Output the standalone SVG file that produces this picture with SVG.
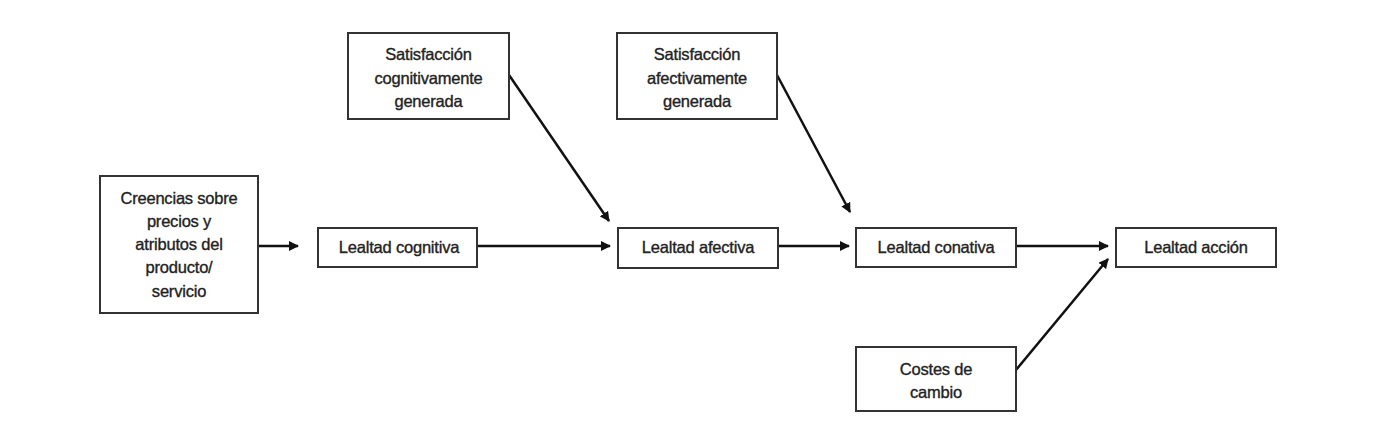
<svg xmlns="http://www.w3.org/2000/svg" width="1373" height="439" viewBox="0 0 1373 439">
<style>
.box{fill:#fff;stroke:#333;stroke-width:2}
.t{font-family:"Liberation Sans",Arial,sans-serif;font-size:16.5px;fill:#222;stroke:#222;stroke-width:0.35;text-anchor:middle;letter-spacing:-0.2px}
.c{stroke:#111;stroke-width:2.5;fill:none;marker-end:url(#ah)}
</style>
<defs>
<marker id="ah" markerWidth="10" markerHeight="10" refX="9" refY="5" orient="auto" markerUnits="userSpaceOnUse" viewBox="0 0 10 10">
<path d="M0,0 L10,5 L0,10 Z" fill="#111"/>
</marker>
</defs>
<rect width="1373" height="439" fill="#fff"/>
<g id="connectors">
<line class="c" x1="258" y1="246" x2="298" y2="246"/>
<line class="c" x1="477" y1="246" x2="610" y2="246"/>
<line class="c" x1="778" y1="246" x2="849" y2="246"/>
<line class="c" x1="1016" y1="246" x2="1108" y2="246"/>
<line class="c" x1="509" y1="75" x2="609" y2="221"/>
<line class="c" x1="777" y1="75" x2="850" y2="212"/>
<line class="c" x1="1016" y1="370" x2="1108" y2="259"/>
</g>
<g id="creencias">
<rect class="box" x="100" y="176" width="158" height="137"/>
<text class="t" x="179" y="204">Creencias sobre</text>
<text class="t" x="179" y="227">precios y</text>
<text class="t" x="179" y="250">atributos del</text>
<text class="t" x="179" y="273">producto/</text>
<text class="t" x="179" y="297">servicio</text>
</g>
<g id="lealtad-cognitiva">
<rect class="box" x="318" y="228" width="159" height="39"/>
<text class="t" x="399" y="253">Lealtad cognitiva</text>
</g>
<g id="sat-cognitiva">
<rect class="box" x="348" y="33" width="161" height="86"/>
<text class="t" x="428.5" y="60">Satisfacción</text>
<text class="t" x="428.5" y="84">cognitivamente</text>
<text class="t" x="428.5" y="107">generada</text>
</g>
<g id="lealtad-afectiva">
<rect class="box" x="618" y="228" width="160" height="40"/>
<text class="t" x="698" y="253">Lealtad afectiva</text>
</g>
<g id="sat-afectiva">
<rect class="box" x="617" y="33" width="160" height="86"/>
<text class="t" x="697" y="60">Satisfacción</text>
<text class="t" x="697" y="84">afectivamente</text>
<text class="t" x="697" y="107">generada</text>
</g>
<g id="lealtad-conativa">
<rect class="box" x="856" y="228" width="160" height="39"/>
<text class="t" x="936" y="253">Lealtad conativa</text>
</g>
<g id="lealtad-accion">
<rect class="box" x="1116" y="228" width="160" height="39"/>
<text class="t" x="1196" y="253">Lealtad acción</text>
</g>
<g id="costes">
<rect class="box" x="856" y="347" width="160" height="64"/>
<text class="t" x="936" y="375">Costes de</text>
<text class="t" x="936" y="398">cambio</text>
</g>
</svg>
